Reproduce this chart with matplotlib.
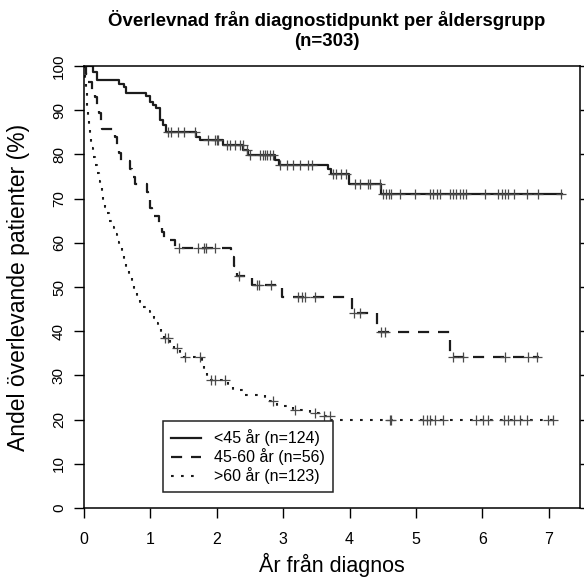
import numpy as np
import matplotlib
matplotlib.use("Agg")
import matplotlib.pyplot as plt

plt.rcParams['font.family'] = ['Liberation Sans', 'DejaVu Sans']

# <45 år: step times (years) and survival (%)
young_t = [0, 0.14, 0.20, 0.52, 0.60, 0.64, 0.94, 0.99, 1.04, 1.09, 1.14, 1.19,
           1.24, 1.69, 1.74, 2.10, 2.40, 2.47, 2.88, 2.93, 3.67, 3.72, 3.99, 4.48]
young_s = [100, 98.7, 96.8, 96.0, 95.3, 93.8, 93.1, 91.9, 91.2, 90.4, 87.8, 86.7,
           85.1, 84.0, 83.3, 82.1, 81.0, 79.9, 78.7, 77.6, 76.7, 75.6, 73.4, 71.1]
young_end = 7.2
young_cens = [1.27, 1.31, 1.42, 1.50, 1.67, 1.87, 1.97, 2.00, 2.02, 2.15, 2.20, 2.27,
              2.35, 2.39, 2.45, 2.50, 2.65, 2.70, 2.73, 2.75, 2.80, 2.85, 2.95, 3.05,
              3.15, 3.25, 3.38, 3.43, 3.75, 3.80, 3.87, 3.95, 4.08, 4.16, 4.28, 4.31,
              4.46, 4.51, 4.55, 4.59, 4.63, 4.76, 4.98, 5.21, 5.26, 5.31, 5.36, 5.51,
              5.56, 5.61, 5.66, 5.71, 5.76, 6.04, 6.24, 6.29, 6.34, 6.39, 6.47, 6.67,
              6.84, 7.19]

# 45-60 år
mid_t = [0, 0.03, 0.06, 0.12, 0.17, 0.19, 0.22, 0.25, 0.27, 0.47, 0.49, 0.53, 0.55,
         0.70, 0.72, 0.77, 0.95, 0.97, 1.00, 1.02, 1.13, 1.17, 1.20, 1.37, 2.22, 2.26,
         2.30, 2.53, 2.98, 4.03, 4.41, 5.51]
mid_s = [100, 98.2, 96.4, 94.6, 92.9, 91.1, 89.3, 87.5, 85.7, 83.9, 82.1, 80.4, 78.6,
         76.8, 75.0, 73.2, 71.4, 69.6, 67.9, 66.1, 64.3, 62.5, 60.7, 58.9, 56.8, 54.7,
         52.4, 50.4, 47.8, 44.2, 39.9, 34.2]
mid_end = 6.86
mid_cens = [1.43, 1.72, 1.81, 1.84, 1.98, 2.33, 2.60, 2.63, 2.81, 3.23, 3.28, 3.33,
            3.48, 4.06, 4.16, 4.48, 4.53, 5.56, 5.71, 6.34, 6.69, 6.82]

# >60 år
old_t = [0, 0.01, 0.02, 0.03, 0.05, 0.065, 0.08, 0.09, 0.11, 0.14, 0.17, 0.19, 0.22,
         0.24, 0.27, 0.29, 0.32, 0.34, 0.38, 0.42, 0.45, 0.49, 0.53, 0.57, 0.60, 0.64,
         0.68, 0.72, 0.76, 0.80, 0.84, 0.89, 0.95, 0.99, 1.05, 1.09, 1.12, 1.16, 1.20,
         1.30, 1.35, 1.45, 1.50, 1.78, 1.81, 1.85, 2.17, 2.25, 2.40, 2.73, 2.90, 3.15,
         3.40, 3.55, 3.72]
old_s = [100, 98, 96, 94.5, 91, 88.5, 86, 83.7, 81.5, 79.5, 77.5, 75.8, 74, 72.7, 71,
         69.7, 68, 66.7, 65, 63.6, 62, 60.2, 58.8, 57.4, 55.5, 53.7, 52.3, 50.8, 49.2,
         47.8, 46.5, 45.5, 44.6, 44.0, 43.0, 41.8, 40.6, 39.3, 38.5, 37.3, 36.1, 35.0,
         34.2, 32.5, 30.8, 29.0, 27.8, 26.6, 25.6, 24.1, 23.0, 22.2, 21.6, 20.8, 19.8]
old_end = 7.1
old_cens = [1.22, 1.27, 1.40, 1.52, 1.75, 1.92, 1.97, 2.12, 2.84, 3.18, 3.48, 3.62,
            3.70, 4.61, 4.63, 5.11, 5.16, 5.21, 5.29, 5.41, 5.91, 6.01, 6.09, 6.32,
            6.39, 6.47, 6.57, 6.67, 6.99, 7.07]

labels = ["<45 år (n=124)", "45-60 år (n=56)", ">60 år (n=123)"]
styles = ["-", (0, (5, 4)), (0, (1.3, 3.5))]
widths = [1.6, 1.6, 1.5]
line_col = "#1c1c1c"
cens_col = "#4a4a4a"

fig = plt.figure(figsize=(5.84, 5.82), dpi=100)
ax = fig.add_axes([84 / 584, 1 - 508 / 582, 496 / 584, 442 / 582])

groups = [(young_t, young_s, young_end, young_cens),
          (mid_t, mid_s, mid_end, mid_cens),
          (old_t, old_s, old_end, old_cens)]

for (t, s, end, cens), lab, ls, lw in zip(groups, labels, styles, widths):
    tt = np.array(t + [end])
    ss = np.array(s + [s[-1]])
    ax.step(tt, ss, where='post', color=line_col, linestyle=ls, lw=lw, label=lab)
    idx = np.searchsorted(np.array(t), np.array(cens), side='right') - 1
    ax.plot(cens, np.array(s)[idx], linestyle='none', marker='+', ms=7, mew=0.9,
            color=cens_col)

ax.set_xlim(0, 7.47)
ax.set_ylim(0, 100)
ax.set_xticks(range(0, 8))
ax.set_yticks(range(0, 101, 10))
ax.tick_params(axis='x', direction='out', length=7, width=1, labelsize=11.5, pad=10)
ax.tick_params(axis='y', direction='out', length=7, width=1, labelsize=11, pad=6,
               right=True, labelrotation=90)
for lab in ax.get_yticklabels():
    lab.set_va('center')
for sp in ax.spines.values():
    sp.set_linewidth(1.1)

ax.set_xlabel("År från diagnos", fontsize=15.5)
ax.xaxis.label.set_va('center')
ax.xaxis.set_label_coords(0.5, -0.129)
ax.set_ylabel("Andel överlevande patienter (%)", fontsize=16.5)
ax.yaxis.set_label_coords(-0.108, 0.5)

fig.text(0.56, 1 - 20 / 582, "Överlevnad från diagnostidpunkt per åldersgrupp",
         ha='center', va='center', fontsize=13.4, fontweight='bold')
fig.text(0.56, 1 - 42 / 582, "(n=303)", ha='center', va='center', fontsize=13.4,
         fontweight='bold')

leg = ax.legend(loc='lower left', bbox_to_anchor=(0.159, 0.036), fontsize=11.5,
                frameon=True, fancybox=False, framealpha=1, edgecolor='#222222',
                handlelength=1.9, handletextpad=0.8, labelspacing=0.12,
                borderpad=0.5, borderaxespad=0)
leg.get_frame().set_linewidth(1.1)

fig.savefig("out.png", dpi=100)
